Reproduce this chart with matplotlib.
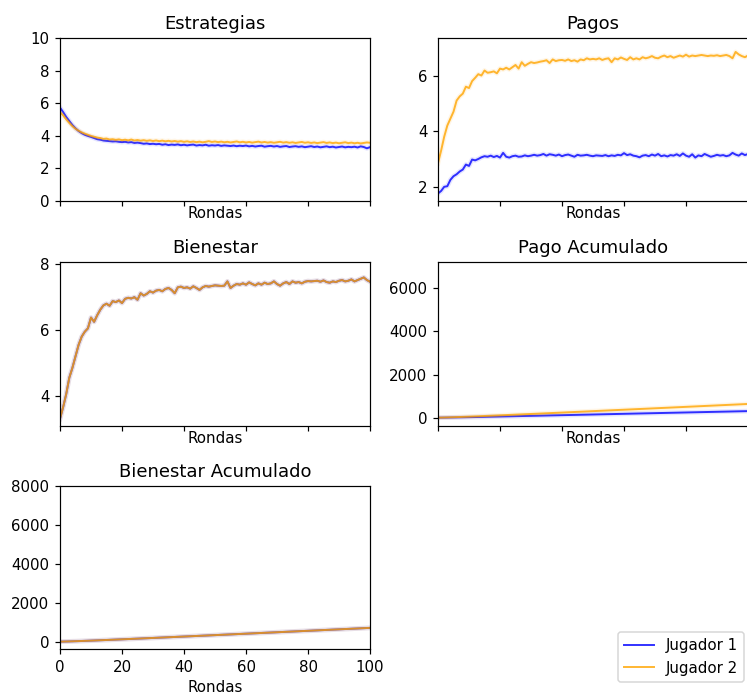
import matplotlib
matplotlib.use("Agg")
import matplotlib.pyplot as plt
import numpy as np

rondas = np.arange(0, 101)
jugadores = ['Jugador 1', 'Jugador 2']
colores = ['blue', 'orange']

# estrategia media por ronda
estrategia_j1 = [5.72, 5.45, 5.15, 4.90, 4.65, 4.45, 4.28, 4.15, 4.05, 3.98,
                 3.92, 3.85, 3.78, 3.75, 3.70, 3.68, 3.66, 3.64, 3.65, 3.62,
                 3.60, 3.62, 3.58, 3.60, 3.55, 3.57, 3.54, 3.50, 3.52, 3.48,
                 3.50, 3.47, 3.49, 3.44, 3.47, 3.42, 3.45, 3.43, 3.46, 3.41,
                 3.44, 3.40, 3.43, 3.45, 3.39, 3.42, 3.40, 3.44, 3.38, 3.41,
                 3.39, 3.42, 3.37, 3.40, 3.38, 3.36, 3.39, 3.35, 3.38, 3.36,
                 3.39, 3.34, 3.37, 3.33, 3.36, 3.38, 3.32, 3.35, 3.37, 3.33,
                 3.36, 3.31, 3.34, 3.36, 3.30, 3.33, 3.35, 3.31, 3.34, 3.29,
                 3.32, 3.35, 3.30, 3.33, 3.28, 3.31, 3.34, 3.29, 3.32, 3.27,
                 3.30, 3.33, 3.28, 3.31, 3.29, 3.32, 3.27, 3.34, 3.30, 3.22,
                 3.29]
estrategia_j2 = [5.45, 5.25, 5.00, 4.78, 4.58, 4.42, 4.30, 4.20, 4.12, 4.05,
                 3.98, 3.93, 3.88, 3.85, 3.80, 3.82, 3.76, 3.78, 3.74, 3.77,
                 3.72, 3.75, 3.71, 3.76, 3.70, 3.73, 3.69, 3.72, 3.68, 3.71,
                 3.67, 3.70, 3.66, 3.69, 3.65, 3.68, 3.64, 3.67, 3.63, 3.66,
                 3.62, 3.65, 3.61, 3.64, 3.60, 3.63, 3.59, 3.62, 3.66, 3.61,
                 3.64, 3.60, 3.63, 3.59, 3.62, 3.58, 3.61, 3.64, 3.59, 3.62,
                 3.58, 3.61, 3.57, 3.60, 3.63, 3.58, 3.61, 3.57, 3.60, 3.56,
                 3.59, 3.62, 3.57, 3.60, 3.56, 3.59, 3.55, 3.58, 3.61, 3.56,
                 3.59, 3.55, 3.58, 3.54, 3.57, 3.60, 3.55, 3.58, 3.54, 3.57,
                 3.53, 3.56, 3.59, 3.54, 3.57, 3.53, 3.56, 3.52, 3.55, 3.58,
                 3.56]

# pago medio por ronda
pago_j1 = [1.76, 1.85, 2.00, 2.02, 2.25, 2.38, 2.45, 2.55, 2.62, 2.80,
           2.75, 2.98, 2.95, 3.00, 3.06, 3.10, 3.08, 3.12, 3.07, 3.11,
           3.05, 3.22, 3.08, 3.05, 3.10, 3.12, 3.08, 3.09, 3.13, 3.10,
           3.12, 3.15, 3.12, 3.14, 3.18, 3.12, 3.17, 3.15, 3.12, 3.16,
           3.10, 3.14, 3.16, 3.12, 3.08, 3.15, 3.12, 3.13, 3.15, 3.12,
           3.10, 3.13, 3.12, 3.11, 3.14, 3.10, 3.13, 3.11, 3.15, 3.13,
           3.21, 3.14, 3.17, 3.12, 3.10, 3.06, 3.12, 3.14, 3.10, 3.16,
           3.12, 3.18, 3.10, 3.13, 3.09, 3.14, 3.12, 3.17, 3.11, 3.20,
           3.12, 3.08, 3.17, 3.05, 3.13, 3.10, 3.18, 3.13, 3.08, 3.11,
           3.15, 3.12, 3.14, 3.10, 3.13, 3.22, 3.16, 3.12, 3.20, 3.14,
           3.18]
pago_j2 = [2.85, 3.30, 3.80, 4.20, 4.45, 4.70, 5.10, 5.25, 5.35, 5.60,
           5.55, 5.80, 5.92, 6.05, 6.00, 6.18, 6.10, 6.12, 6.15, 6.08,
           6.25, 6.22, 6.28, 6.22, 6.30, 6.38, 6.25, 6.48, 6.35, 6.42,
           6.48, 6.45, 6.47, 6.50, 6.52, 6.55, 6.45, 6.58, 6.52, 6.55,
           6.56, 6.53, 6.58, 6.52, 6.55, 6.50, 6.58, 6.55, 6.62, 6.58,
           6.60, 6.58, 6.62, 6.56, 6.60, 6.62, 6.48, 6.62, 6.58, 6.65,
           6.60, 6.56, 6.66, 6.58, 6.62, 6.58, 6.66, 6.62, 6.65, 6.70,
           6.64, 6.62, 6.68, 6.72, 6.66, 6.70, 6.64, 6.68, 6.72, 6.68,
           6.75, 6.68, 6.72, 6.70, 6.72, 6.74, 6.72, 6.70, 6.72, 6.71,
           6.73, 6.70, 6.72, 6.74, 6.70, 6.62, 6.85, 6.76, 6.70, 6.66,
           6.72]

# bienestar por ronda (igual para ambos jugadores)
bienestar = [3.30, 3.65, 4.05, 4.55, 4.85, 5.20, 5.55, 5.80, 5.95, 6.05,
             6.38, 6.25, 6.45, 6.62, 6.75, 6.80, 6.74, 6.88, 6.85, 6.90,
             6.82, 6.95, 6.98, 6.96, 7.00, 6.92, 7.12, 7.05, 7.10, 7.18,
             7.14, 7.20, 7.22, 7.18, 7.25, 7.28, 7.22, 7.12, 7.30, 7.32,
             7.28, 7.30, 7.26, 7.33, 7.28, 7.22, 7.30, 7.34, 7.32, 7.34,
             7.36, 7.35, 7.34, 7.35, 7.48, 7.28, 7.35, 7.40, 7.38, 7.42,
             7.38, 7.45, 7.40, 7.36, 7.42, 7.38, 7.44, 7.40, 7.42, 7.48,
             7.40, 7.35, 7.42, 7.46, 7.40, 7.48, 7.44, 7.46, 7.42, 7.47,
             7.49, 7.48, 7.49, 7.50, 7.47, 7.51, 7.46, 7.44, 7.48, 7.46,
             7.50, 7.52, 7.48, 7.50, 7.54, 7.48, 7.52, 7.56, 7.60, 7.52,
             7.47]

series = {
    'Estrategias': [estrategia_j1, estrategia_j2],
    'Pagos': [pago_j1, pago_j2],
    'Bienestar': [bienestar, bienestar],
    'Pago Acumulado': [np.cumsum(pago_j1), np.cumsum(pago_j2)],
    'Bienestar Acumulado': [np.cumsum(bienestar), np.cumsum(bienestar)],
}

W, H = 747, 696
DPI = 108
fig = plt.figure(figsize=(W / DPI, H / DPI), dpi=DPI)


def caja(x0, top, bottom, ancho=310):
    return [x0 / W, 1 - bottom / H, ancho / W, (bottom - top) / H]


posiciones = {
    'Estrategias': caja(60, 38, 200.7),
    'Pagos': caja(438, 38, 200.7),
    'Bienestar': caja(60, 262, 425.7),
    'Pago Acumulado': caja(438, 262, 425.7),
    'Bienestar Acumulado': caja(60, 486, 649),
}
limites = {
    'Estrategias': (0, 10),
    'Pagos': (1.5, 7.35),
    'Bienestar': (3.09, 8.07),
    'Pago Acumulado': (-370, 7220),
    'Bienestar Acumulado': (-375, 8000),
}
yticks = {
    'Estrategias': [0, 2, 4, 6, 8, 10],
    'Pagos': [2, 4, 6],
    'Bienestar': [4, 6, 8],
    'Pago Acumulado': [0, 2000, 4000, 6000],
    'Bienestar Acumulado': [0, 2000, 4000, 6000, 8000],
}

handles = []
for titulo, datos in series.items():
    ax = fig.add_axes(posiciones[titulo])
    for y, c, nombre in zip(datos, colores, jugadores):
        ax.plot(rondas, y, color=c, alpha=0.1, lw=3.2)
        h, = ax.plot(rondas, y, color=c, alpha=0.8, lw=1.3, label=nombre)
        if titulo == 'Estrategias':
            handles.append(h)
    ax.set_title(titulo)
    ax.set_xlim(0, 100)
    ax.set_ylim(*limites[titulo])
    ax.set_xticks([0, 20, 40, 60, 80, 100])
    ax.set_yticks(yticks[titulo])
    if titulo == 'Bienestar Acumulado':
        ax.set_xlabel('Rondas')
    else:
        ax.set_xlabel('Rondas', labelpad=0)
        ax.tick_params(labelbottom=False)

fig.legend(handles=handles, labels=jugadores, loc='upper left',
           bbox_to_anchor=(618 / W, 1 - 632 / H), borderaxespad=0)

fig.savefig('out.png', dpi=DPI)
